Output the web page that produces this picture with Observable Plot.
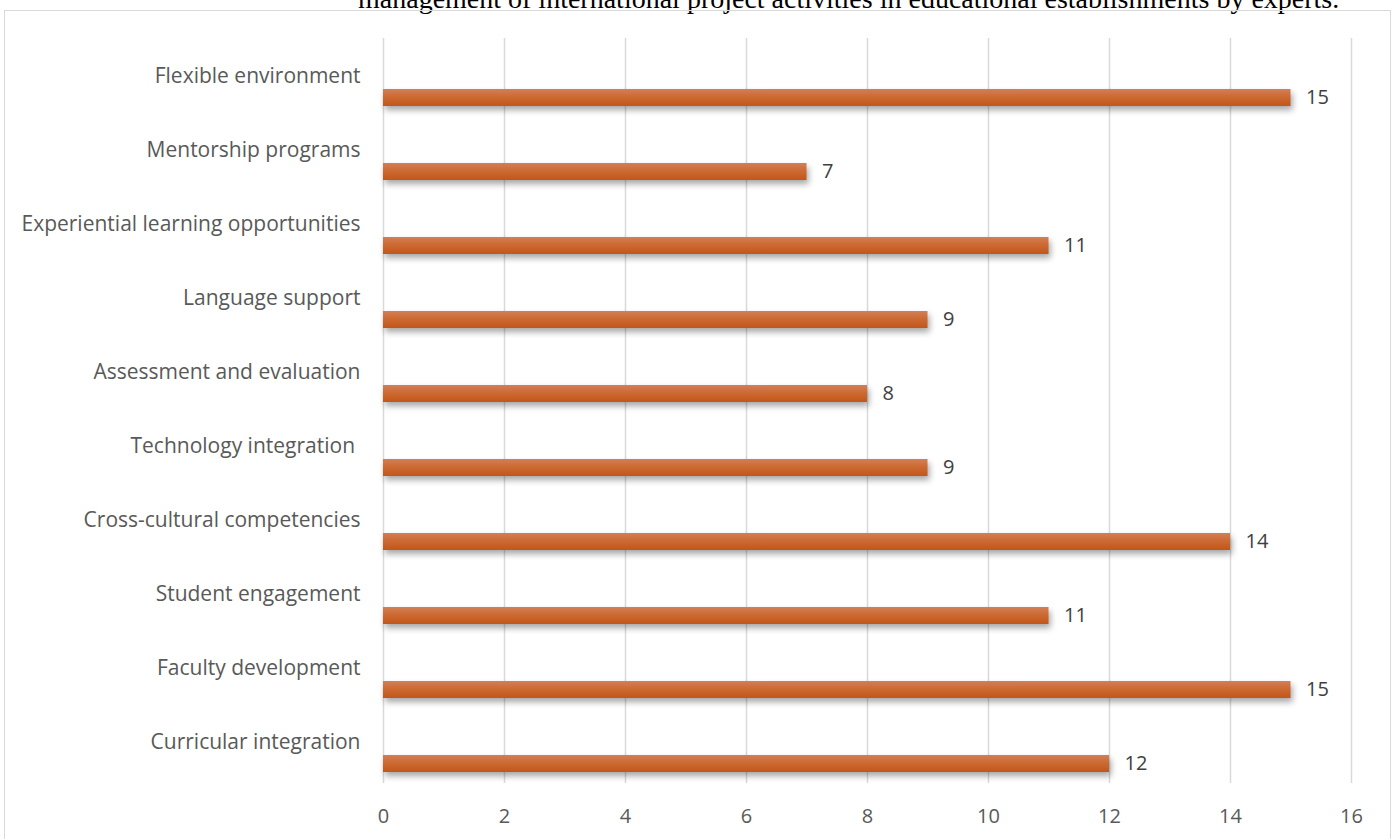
<!DOCTYPE html>
<html>
<head>
<meta charset="utf-8">
<script src="https://cdn.jsdelivr.net/npm/d3@7"></script>
<script src="https://cdn.jsdelivr.net/npm/@observablehq/plot@0.6"></script>
<style>
  html, body { margin: 0; padding: 0; background: #fff; }
  #wrap { position: relative; width: 1397px; height: 839px; overflow: hidden; }
  #title { position: absolute; left: 358px; top: -16px;
           font-family: "Liberation Serif", "Times New Roman", serif; font-size: 28px; color: #000; white-space: nowrap; line-height: 30px; }
  #frame { position: absolute; left: 4px; top: 10px; width: 1387px; height: 900px; border: 1.5px solid #d9d9d9; box-sizing: border-box; }
  #chart { position: absolute; left: 0; top: 0; }
  #chart text { white-space: pre; }
</style>
</head>
<body>
<div id="wrap">
  <div id="title"></div>
  <div id="frame"></div>
  <div id="chart"></div>
</div>
<script>
const titleText = "management of international project activities in educational establishments by experts.";
const categories = [
  "Flexible environment",
  "Mentorship programs",
  "Experiential learning opportunities",
  "Language support",
  "Assessment and evaluation",
  "Technology integration ",
  "Cross-cultural competencies",
  "Student engagement",
  "Faculty development",
  "Curricular integration"
];
const values = [15, 7, 11, 9, 8, 9, 14, 11, 15, 12];
const xTicks = [0, 2, 4, 6, 8, 10, 12, 14, 16];

document.getElementById("title").textContent = titleText;

const data = categories.map((c, i) => ({category: c, value: values[i]}));
const font = "'Open Sans', sans-serif";

const chart = Plot.plot({
  width: 1397,
  height: 839,
  marginLeft: 383,
  marginRight: 46,
  marginTop: 38,
  marginBottom: 56,
  style: {fontFamily: font, fontSize: "20px", color: "#595959", background: "transparent", overflow: "visible"},
  x: {domain: [0, 16], ticks: xTicks, label: null},
  y: {domain: categories, padding: 0, label: null},
  marks: [
    Plot.gridX(xTicks, {stroke: "#d9d9d9", strokeOpacity: 1, strokeWidth: 1.5}),
    Plot.axisX({ticks: xTicks, tickSize: 0, tickPadding: 25, fontSize: 20, fill: "#595959", label: null}),
    Plot.axisY({tickSize: 0, tickPadding: 23, fontSize: 21, fill: "#595959", label: null, dy: -2}),
    Plot.barX(data, {x: "value", y: "category", fill: "url(#barGrad)", insetTop: 48, insetBottom: 9, className: "bars"}),
    Plot.text(data, {x: "value", y: "category", text: d => String(d.value), textAnchor: "start", dx: 15, dy: 19, fontSize: 20, fill: "#404040"})
  ]
});

const svg = d3.select(chart);
const defs = svg.insert("defs", ":first-child");
const grad = defs.append("linearGradient").attr("id", "barGrad").attr("x1", 0).attr("y1", 0).attr("x2", 0).attr("y2", 1);
grad.append("stop").attr("offset", "0%").attr("stop-color", "#d47f56");
grad.append("stop").attr("offset", "45%").attr("stop-color", "#cc6a33");
grad.append("stop").attr("offset", "100%").attr("stop-color", "#c2561a");
svg.selectAll(".bars rect").style("filter", "drop-shadow(2px 4px 3px rgba(0,0,0,0.35))");

document.getElementById("chart").appendChild(chart);
</script>
</body>
</html>
